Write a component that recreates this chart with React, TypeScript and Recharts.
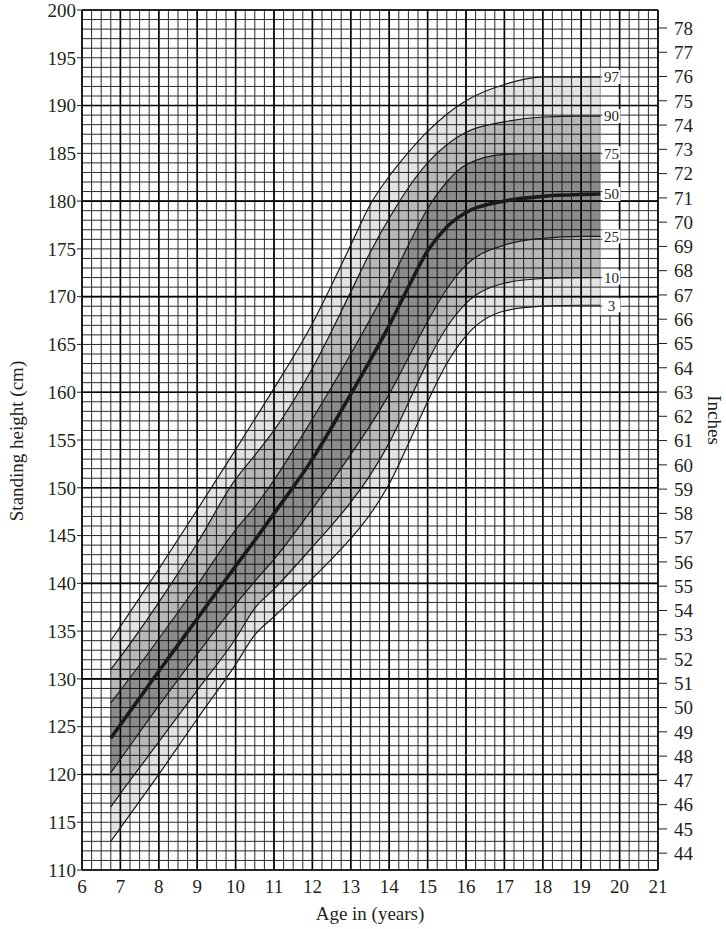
import React from 'react';
import {
  ComposedChart,
  Line,
  Area,
  XAxis,
  YAxis,
  CartesianGrid,
  ReferenceLine,
  ReferenceArea,
  LabelList,
} from 'recharts';

const ages = [6.75, 7, 8, 9, 10, 10.5, 11, 12, 13, 13.5, 14, 14.5, 15, 15.5, 16, 17, 18, 19, 19.5];
const p97 = [134, 135.5, 141.5, 147.7, 154.0, 157.2, 160.4, 167.2, 175.4, 179.6, 182.6, 185.1, 187.3, 189.1, 190.5, 192.2, 193, 193, 193];
const p90 = [131, 132.3, 138, 144.2, 150.9, 153.4, 156.0, 162.5, 170.5, 174.6, 178.2, 181.4, 184.0, 185.9, 187.2, 188.3, 188.8, 188.9, 188.9];
const p75 = [127.5, 128.8, 134.2, 139.8, 145.6, 148.0, 150.8, 157.2, 164.0, 167.6, 171.3, 175.4, 179.2, 182.0, 183.8, 184.9, 185, 185, 185];
const p50 = [123.8, 125.2, 130.8, 136.3, 141.8, 144.5, 147.3, 153.0, 159.8, 163.3, 167.0, 171.0, 174.8, 177.3, 178.8, 180.0, 180.5, 180.7, 180.75];
const p25 = [120.2, 121.6, 127.2, 132.6, 137.8, 140.2, 142.5, 147.8, 153.5, 156.5, 159.8, 163.6, 167.4, 170.8, 173.3, 175.4, 176.1, 176.3, 176.3];
const p10 = [116.6, 118.0, 123.4, 128.8, 134.2, 137.4, 139.4, 143.8, 148.5, 151.3, 154.7, 158.9, 163.2, 166.8, 169.3, 171.4, 171.9, 172, 172];
const p3 = [113, 114.4, 120, 125.8, 131.5, 134.6, 136.5, 140.5, 144.7, 147.2, 150.4, 154.6, 159, 163.0, 165.9, 168.5, 169, 169.1, 169.1];

const ageTicks = [6, 7, 8, 9, 10, 11, 12, 13, 14, 15, 16, 17, 18, 19, 20, 21];
const cmTicks = [110, 115, 120, 125, 130, 135, 140, 145, 150, 155, 160, 165, 170, 175, 180, 185, 190, 195, 200];
const inchTicks = [44, 45, 46, 47, 48, 49, 50, 51, 52, 53, 54, 55, 56, 57, 58, 59, 60, 61, 62, 63, 64, 65, 66, 67, 68, 69, 70, 71, 72, 73, 74, 75, 76, 77, 78];
const cmMajor = [110, 120, 130, 140, 150, 160, 170, 180, 190, 200];

const minorAges: number[] = [];
for (let i = 0; i <= 60; i++) minorAges.push(6 + i * 0.25);
const minorCm: number[] = [];
for (let c = 110; c <= 200; c++) minorCm.push(c);
const columnCm: number[] = [];
for (let c = 168; c <= 194; c++) columnCm.push(c);

const data = ages.map((age, i) => ({
  age,
  p3: p3[i],
  p10: p10[i],
  p25: p25[i],
  p50: p50[i],
  p75: p75[i],
  p90: p90[i],
  p97: p97[i],
}));

const FONT = '"Liberation Serif", "Times New Roman", serif';
const INK = '#231f20';

const endLabel = (name: string) => (props: any) => {
  const { x, y, index } = props;
  if (index !== ages.length - 1) return null;
  return (
    <g>
      <rect x={x + 2} y={y - 7} width={18} height={14} fill="#fff" />
      <text x={x + 11} y={y} dy="0.35em" textAnchor="middle" fontSize={15} fontFamily={FONT} fill={INK}>
        {name}
      </text>
    </g>
  );
};

const curves: { key: string; name: string; width: number }[] = [
  { key: 'p97', name: '97', width: 1.2 },
  { key: 'p90', name: '90', width: 1.2 },
  { key: 'p75', name: '75', width: 1.2 },
  { key: 'p50', name: '50', width: 3.6 },
  { key: 'p25', name: '25', width: 1.2 },
  { key: 'p10', name: '10', width: 1.2 },
  { key: 'p3', name: '3', width: 1.2 },
];

const bands: { lo: string; hi: string; alpha: number }[] = [
  { lo: 'p3', hi: 'p10', alpha: 0.11 },
  { lo: 'p10', hi: 'p25', alpha: 0.28 },
  { lo: 'p25', hi: 'p75', alpha: 0.45 },
  { lo: 'p75', hi: 'p90', alpha: 0.28 },
  { lo: 'p90', hi: 'p97', alpha: 0.11 },
];

const tickStyle = { fontSize: 19, fill: INK, fontFamily: FONT };

const LeftTitle = () => (
  <text
    transform="translate(16,441) rotate(-90)"
    textAnchor="middle"
    dominantBaseline="central"
    fontSize={19}
    fontFamily={FONT}
    fill={INK}
  >
    Standing height (cm)
  </text>
);

const RightTitle = () => (
  <text
    transform="translate(714,420) rotate(90)"
    textAnchor="middle"
    dominantBaseline="central"
    fontSize={19}
    fontFamily={FONT}
    fill={INK}
  >
    Inches
  </text>
);

const BottomTitle = () => (
  <text x={370} y={913} textAnchor="middle" dominantBaseline="central" fontSize={19} fontFamily={FONT} fill={INK}>
    Age in (years)
  </text>
);

export default function App() {
  return (
    <div style={{ position: 'absolute', left: 0, top: 0, background: '#fff' }}>
      <ComposedChart width={726} height={929} data={data} margin={{ top: 10, right: 0, bottom: 0, left: 0 }}>
        <CartesianGrid
          verticalValues={minorAges}
          horizontalValues={minorCm}
          stroke="#2a2a2a"
          strokeWidth={1}
        />
        <XAxis
          dataKey="age"
          type="number"
          domain={[6, 21]}
          ticks={ageTicks}
          height={59}
          axisLine={false}
          tickLine={false}
          tickSize={0}
          tickMargin={10}
          tick={tickStyle}
          interval={0}
          label={() => <BottomTitle />}
        />
        <YAxis
          type="number"
          domain={[110, 200]}
          ticks={cmTicks}
          width={82}
          axisLine={false}
          tickSize={5}
          tickMargin={1}
          tickLine={{ stroke: INK }}
          tick={tickStyle}
          interval={0}
          label={() => <LeftTitle />}
        />
        <YAxis
          yAxisId="in"
          orientation="right"
          type="number"
          domain={[110 / 2.54, 200 / 2.54]}
          allowDataOverflow
          ticks={inchTicks}
          width={68}
          axisLine={false}
          tickSize={9}
          tickMargin={7}
          tickLine={{ stroke: INK }}
          tick={tickStyle}
          interval={0}
          label={() => <RightTitle />}
        />
        {bands.map((b) => (
          <Area
            key={b.lo + b.hi}
            type="monotone"
            dataKey={(d: any) => [d[b.lo], d[b.hi]]}
            stroke="none"
            fill="#000"
            fillOpacity={b.alpha}
            isAnimationActive={false}
            activeDot={false}
          />
        ))}
        {ageTicks.map((a) => (
          <ReferenceLine key={'va' + a} x={a} stroke="#000" strokeWidth={1.6} />
        ))}
        {cmMajor.map((c) => (
          <ReferenceLine key={'hc' + c} y={c} stroke="#000" strokeWidth={1.6} />
        ))}
        <ReferenceArea x1={19.5} x2={19.97} y1={168} y2={194} fill="#fff" fillOpacity={1} stroke="none" />
        {columnCm.map((c) => (
          <ReferenceLine
            key={'col' + c}
            segment={[
              { x: 19.5, y: c },
              { x: 20, y: c },
            ]}
            stroke="#2a2a2a"
            strokeWidth={1}
          />
        ))}
        {curves.map((c) => (
          <Line
            key={c.key}
            type="monotone"
            dataKey={c.key}
            stroke="#1a1a1a"
            strokeWidth={c.width}
            dot={false}
            activeDot={false}
            isAnimationActive={false}
          >
            <LabelList dataKey={c.key} content={endLabel(c.name)} />
          </Line>
        ))}
      </ComposedChart>
    </div>
  );
}
